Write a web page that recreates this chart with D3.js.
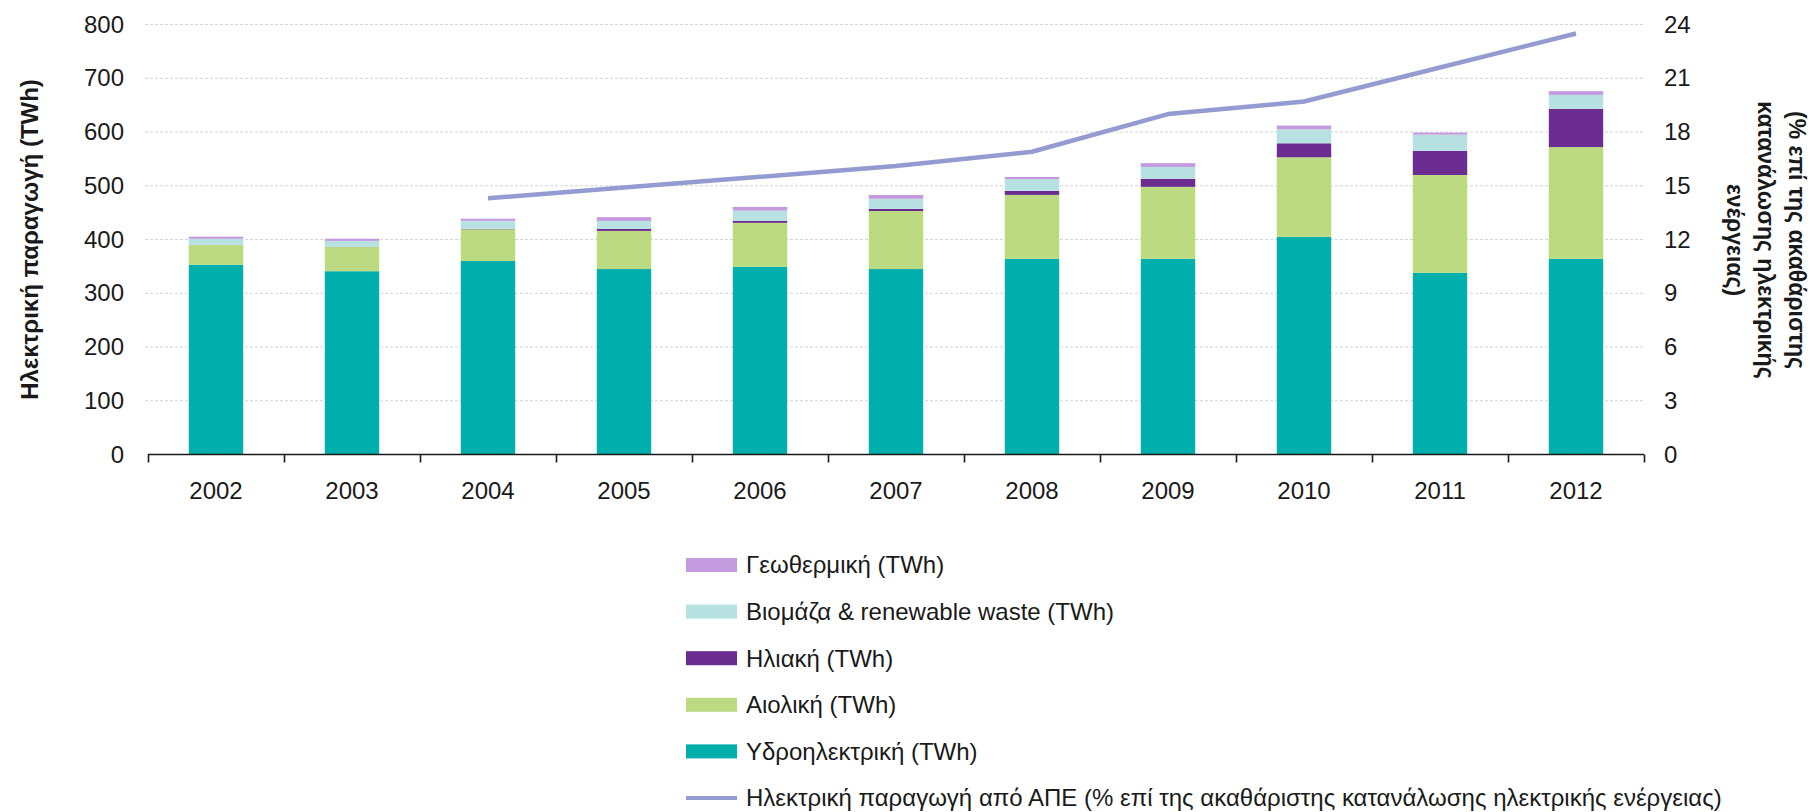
<!DOCTYPE html>
<html>
<head>
<meta charset="utf-8">
<script src="https://cdn.jsdelivr.net/npm/d3@7"></script>
<style>
  html, body { margin: 0; padding: 0; background: #fff; }
  svg text { font-family: "Liberation Sans", Arial, sans-serif; fill: #1a1a1a; }
</style>
</head>
<body>
<svg id="chart" width="1814" height="812"></svg>
<script>
// Renewable electricity generation by source (TWh) and RES share of gross consumption (%)
const years = ["2002","2003","2004","2005","2006","2007","2008","2009","2010","2011","2012"];
const hydro = [353, 341, 360, 345, 349, 345, 364, 364, 405, 338, 364];
const wind  = [37, 45, 59, 71, 82, 108, 119, 134, 148, 182, 208];
const solar = [0.3, 0.4, 0.7, 3.6, 3.7, 3.8, 7.4, 15, 26, 45, 71];
const biomass = [11, 11, 15, 15, 19, 19, 22, 22, 26, 30, 26];
const geothermal = [4, 4, 4, 7, 7, 7, 4, 7, 7, 4, 7];
const resShare = [null, null, 14.3, 14.9, 15.5, 16.1, 16.9, 19.0, 19.7, 21.6, 23.5];

const leftTicks = [0, 100, 200, 300, 400, 500, 600, 700, 800];
const rightTicks = [0, 3, 6, 9, 12, 15, 18, 21, 24];

const seriesKeys = ["hydro", "wind", "solar", "biomass", "geothermal"];
const seriesColors = {
  hydro: "#00aeab",
  wind: "#bbda82",
  solar: "#6b2c8f",
  biomass: "#b8e2e1",
  geothermal: "#c49ade"
};
const seriesLabels = {
  hydro: "Υδροηλεκτρική (TWh)",
  wind: "Αιολική (TWh)",
  solar: "Ηλιακή (TWh)",
  biomass: "Βιομάζα & renewable waste (TWh)",
  geothermal: "Γεωθερμική (TWh)"
};
const lineColor = "#939bd0";
const lineLabel = "Ηλεκτρική παραγωγή από ΑΠΕ (% επί της ακαθάριστης κατανάλωσης ηλεκτρικής ενέργειας)";

const rows = years.map((y, i) => ({
  year: y, hydro: hydro[i], wind: wind[i], solar: solar[i],
  biomass: biomass[i], geothermal: geothermal[i], share: resShare[i]
}));

const svg = d3.select("#chart");
const plot = { left: 148, right: 1644, top: 24.5, bottom: 454.5 };

const x = d3.scaleBand()
  .domain(years)
  .range([plot.left, plot.right])
  .paddingInner(0.6)
  .paddingOuter(0.3);
const xEdges = d3.scaleLinear().domain([0, years.length]).range([plot.left, plot.right]);
const y = d3.scaleLinear().domain([0, 800]).range([plot.bottom, plot.top]);
const y2 = d3.scaleLinear().domain([0, 24]).range([plot.bottom, plot.top]);

// Gridlines
svg.append("g")
  .selectAll("line")
  .data(leftTicks.filter(d => d > 0))
  .join("line")
  .attr("x1", plot.left - 3).attr("x2", plot.right)
  .attr("y1", d => y(d)).attr("y2", d => y(d))
  .attr("stroke", "#d4d4d4")
  .attr("stroke-width", 1)
  .attr("stroke-dasharray", "3,2");

// Stacked bars
const stack = d3.stack().keys(seriesKeys);
const layers = stack(rows);
svg.append("g")
  .selectAll("g")
  .data(layers)
  .join("g")
  .attr("fill", d => seriesColors[d.key])
  .selectAll("rect")
  .data(d => d)
  .join("rect")
  .attr("x", d => x(d.data.year))
  .attr("width", x.bandwidth())
  .attr("y", d => y(d[1]))
  .attr("height", d => y(d[0]) - y(d[1]));

// Left axis labels
const yAxis = d3.axisLeft(y).tickValues(leftTicks).tickSize(0).tickPadding(0);
const gy = svg.append("g")
  .attr("transform", `translate(${plot.left - 24},0)`)
  .call(yAxis);
gy.select(".domain").remove();
gy.selectAll("text").attr("font-size", 24).style("font-family", "Liberation Sans, Arial, sans-serif").attr("fill", "#1a1a1a");

// Right axis labels
const yAxisR = d3.axisRight(y2).tickValues(rightTicks).tickSize(0).tickPadding(0);
const gy2 = svg.append("g")
  .attr("transform", `translate(${plot.right + 20},0)`)
  .call(yAxisR);
gy2.select(".domain").remove();
gy2.selectAll("text").attr("font-size", 24).style("font-family", "Liberation Sans, Arial, sans-serif").attr("fill", "#1a1a1a");

// Bottom axis: baseline with ticks at category edges
const xEdgeAxis = d3.axisBottom(xEdges)
  .tickValues(d3.range(years.length + 1))
  .tickSize(8)
  .tickFormat("");
const gx = svg.append("g")
  .attr("transform", `translate(0,${plot.bottom})`)
  .call(xEdgeAxis);
gx.select(".domain").attr("stroke", "#1a1a1a").attr("stroke-width", 1.6).attr("d", `M${plot.left},0H${plot.right}`);
gx.selectAll(".tick line").attr("stroke", "#1a1a1a").attr("stroke-width", 1.6);

const xAxis = d3.axisBottom(x).tickSize(0).tickPadding(0);
const gxl = svg.append("g")
  .attr("transform", `translate(0,${plot.bottom + 36})`)
  .call(xAxis);
gxl.select(".domain").remove();
gxl.selectAll("text")
  .attr("font-size", 24)
  .attr("dy", "0.35em")
  .style("font-family", "Liberation Sans, Arial, sans-serif")
  .attr("fill", "#1a1a1a");

// RES share line (right axis)
const line = d3.line()
  .defined(d => d.share != null)
  .x(d => x(d.year) + x.bandwidth() / 2)
  .y(d => y2(d.share));
svg.append("path")
  .datum(rows)
  .attr("fill", "none")
  .attr("stroke", lineColor)
  .attr("stroke-width", 4.5)
  .attr("stroke-linejoin", "round")
  .attr("d", line);

// Axis titles
svg.append("text")
  .attr("transform", `translate(38,${(plot.top + plot.bottom) / 2}) rotate(-90)`)
  .attr("text-anchor", "middle")
  .attr("font-size", 24)
  .attr("font-weight", "bold")
  .text("Ηλεκτρική παραγωγή (TWh)");

const rightTitle = ["(% επί της ακαθάριστης", "κατανάλωσης ηλεκτρικής", "ενέργειας)"];
svg.append("g")
  .attr("transform", `translate(1789,240) rotate(90)`)
  .selectAll("text")
  .data(rightTitle)
  .join("text")
  .attr("x", 0)
  .attr("y", (d, i) => i * 31)
  .attr("text-anchor", "middle")
  .attr("font-size", 23)
  .attr("font-weight", "bold")
  .text(d => d);

// Legend
const legendItems = [
  ...["geothermal", "biomass", "solar", "wind", "hydro"].map(k => ({ type: "bar", key: k, label: seriesLabels[k], color: seriesColors[k] })),
  { type: "line", key: "share", label: lineLabel, color: lineColor }
];
const legend = svg.append("g").attr("transform", "translate(686,565)");
const li = legend.selectAll("g")
  .data(legendItems)
  .join("g")
  .attr("transform", (d, i) => `translate(0,${i * 46.6})`);
li.filter(d => d.type === "bar")
  .append("rect")
  .attr("x", 0).attr("y", -7)
  .attr("width", 51).attr("height", 14)
  .attr("fill", d => d.color);
li.filter(d => d.type === "line")
  .append("line")
  .attr("x1", 0).attr("x2", 51)
  .attr("y1", 0).attr("y2", 0)
  .attr("stroke", d => d.color)
  .attr("stroke-width", 4);
li.append("text")
  .attr("x", 60)
  .attr("y", 0)
  .attr("dy", "0.35em")
  .attr("font-size", 24)
  .text(d => d.label);
</script>
</body>
</html>
